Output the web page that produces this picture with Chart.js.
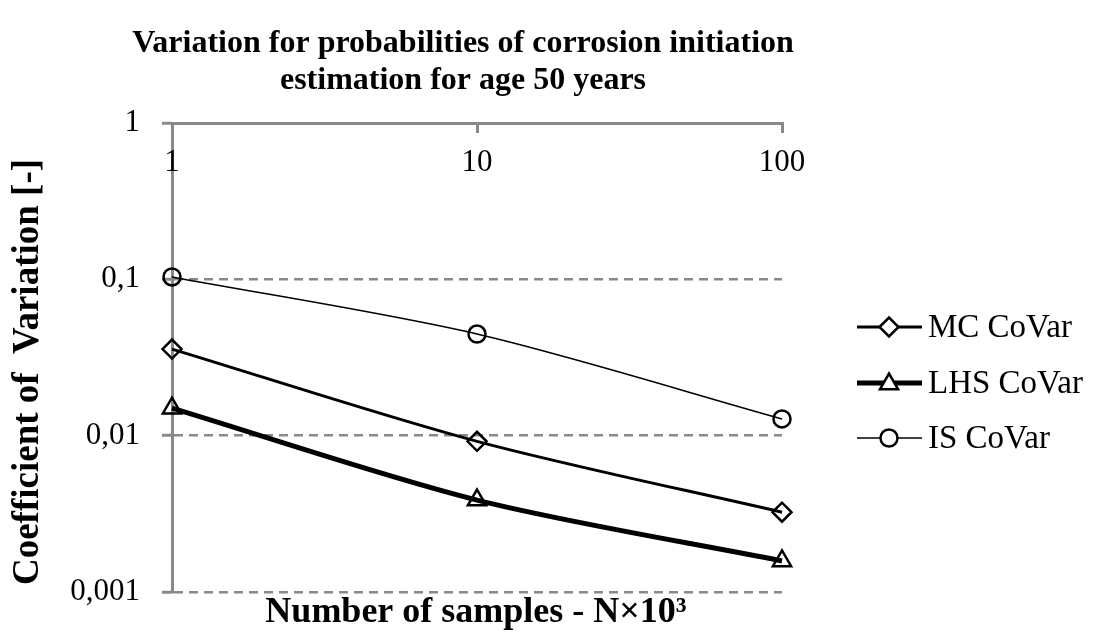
<!DOCTYPE html>
<html>
<head>
<meta charset="utf-8">
<script src="https://cdn.jsdelivr.net/npm/chart.js@4/dist/chart.umd.min.js"></script>
<style>
  html, body { margin: 0; padding: 0; background: #fff; }
  #wrap { width: 1093px; height: 635px; }
</style>
</head>
<body>
<div id="wrap"><canvas id="c" width="1093" height="635"></canvas></div>
<script>
// ---- data ----
const samplesK = [1, 10, 100];
const mcCoVar  = [0.0358, 0.0092, 0.00324];
const lhsCoVar = [0.0150, 0.00387, 0.00158];
const isCoVar  = [0.1035, 0.0447, 0.0128];
const seriesNames = ['MC CoVar', 'LHS CoVar', 'IS CoVar'];
const xTickValues = [1, 10, 100];
const xTickLabels = ['1', '10', '100'];
const yTickValues = [0.001, 0.01, 0.1, 1];
const yTickLabels = ['0,001', '0,01', '0,1', '1'];
const titleLines = ['Variation for probabilities of corrosion initiation', 'estimation for age 50 years'];
const xTitle = 'Number of samples - N×10³';
const yTitle = 'Coefficient of  Variation [-]';

const SERIF = '"Liberation Serif", "DejaVu Serif", serif';
const GRID = '#898989';

function pts(arr) { return samplesK.map((x, i) => ({ x: x, y: arr[i] })); }

function markerPath(ctx, style, x, y, r) {
  ctx.beginPath();
  if (style === 'circle') {
    ctx.arc(x, y, r, 0, Math.PI * 2);
  } else if (style === 'rectRot') {
    ctx.moveTo(x - r, y); ctx.lineTo(x, y - r); ctx.lineTo(x + r, y); ctx.lineTo(x, y + r); ctx.closePath();
  } else {
    const h = r * 1.5, w = r * Math.sqrt(3) / 2;
    ctx.moveTo(x - w, y + h / 3); ctx.lineTo(x, y - 2 * h / 3); ctx.lineTo(x + w, y + h / 3); ctx.closePath();
  }
}

const legendPlugin = {
  id: 'customLegend',
  afterDraw(chart) {
    const ctx = chart.ctx;
    const x0 = 857, x1 = 922, xm = 889, xt = 928;
    const ys = [327, 383, 438];
    chart.data.datasets.forEach((ds, i) => {
      const y = ys[i];
      ctx.save();
      ctx.strokeStyle = ds.borderColor;
      ctx.lineWidth = ds.borderWidth;
      ctx.beginPath(); ctx.moveTo(x0, y); ctx.lineTo(x1, y); ctx.stroke();
      markerPath(ctx, ds.pointStyle, xm, ds.pointStyle === 'triangle' ? y + 1 : y, ds.pointRadius);
      ctx.fillStyle = '#fff';
      ctx.fill();
      ctx.strokeStyle = '#000';
      ctx.lineWidth = ds.pointBorderWidth;
      ctx.stroke();
      ctx.fillStyle = '#000';
      ctx.font = '33px ' + SERIF;
      ctx.textAlign = 'left';
      ctx.textBaseline = 'middle';
      ctx.fillText(ds.label, xt, y + 1);
      ctx.restore();
    });
  }
};

const titlesPlugin = {
  id: 'titles',
  afterDraw(chart) {
    const ctx = chart.ctx;
    ctx.save();
    ctx.fillStyle = '#000';
    ctx.textAlign = 'center';
    ctx.textBaseline = 'middle';
    ctx.font = 'bold 32px ' + SERIF;
    ctx.fillText(titleLines[0], 463, 44);
    ctx.fillText(titleLines[1], 463, 81);
    ctx.font = 'bold 36px ' + SERIF;
    ctx.fillText(xTitle, 476, 613);
    ctx.font = 'bold 37px ' + SERIF;
    ctx.translate(28, 372);
    ctx.rotate(-Math.PI / 2);
    ctx.fillText(yTitle, 0, 0);
    ctx.restore();
  }
};

new Chart(document.getElementById('c'), {
  type: 'line',
  data: {
    datasets: [
      { label: seriesNames[0], data: pts(mcCoVar), borderColor: '#000', borderWidth: 3,
        pointStyle: 'rectRot', pointRadius: 9.5, pointBorderWidth: 2.5,
        pointBackgroundColor: 'rgba(0,0,0,0)', pointBorderColor: '#000', tension: 0.3, clip: false },
      { label: seriesNames[1], data: pts(lhsCoVar), borderColor: '#000', borderWidth: 5,
        pointStyle: 'triangle', pointRadius: 10.5, pointBorderWidth: 2.5,
        pointBackgroundColor: 'rgba(0,0,0,0)', pointBorderColor: '#000', tension: 0.3, clip: false },
      { label: seriesNames[2], data: pts(isCoVar), borderColor: '#000', borderWidth: 1.5,
        pointStyle: 'circle', pointRadius: 8.5, pointBorderWidth: 2.5,
        pointBackgroundColor: 'rgba(0,0,0,0)', pointBorderColor: '#000', tension: 0.3, clip: false }
    ]
  },
  options: {
    responsive: false,
    animation: false,
    events: [],
    layout: { padding: { top: 122, left: 0, right: 311, bottom: 43 } },
    plugins: { legend: { display: false }, title: { display: false }, tooltip: { enabled: false } },
    scales: {
      x: {
        type: 'logarithmic', position: 'top', min: 1, max: 100,
        afterBuildTicks: (s) => { s.ticks = xTickValues.map(v => ({ value: v })); },
        afterFit: (s) => { s.height = 1; },
        ticks: {
          autoSkip: false, maxRotation: 0, mirror: true, padding: 21, color: '#000', z: 1,
          font: { family: SERIF, size: 31 },
          callback: (v) => { const i = xTickValues.indexOf(v); return i >= 0 ? xTickLabels[i] : ''; }
        },
        grid: { drawOnChartArea: false, drawTicks: true, tickLength: -10, tickColor: GRID, tickWidth: 3, color: GRID },
        border: { display: true, color: GRID, width: 3 }
      },
      y: {
        type: 'logarithmic', min: 0.001, max: 1,
        afterBuildTicks: (s) => { s.ticks = yTickValues.map(v => ({ value: v })); },
        afterFit: (s) => { s.width = 172; },
        ticks: {
          autoSkip: false, padding: 22, color: '#000',
          font: { family: SERIF, size: 31 },
          callback: (v) => { const i = yTickValues.indexOf(v); return i >= 0 ? yTickLabels[i] : ''; }
        },
        grid: {
          drawTicks: true, tickLength: 10, tickColor: GRID, tickWidth: 3,
          lineWidth: 2.5,
          color: (c) => (c.tick && c.tick.value === 1) ? 'rgba(0,0,0,0)' : GRID
        },
        border: { display: true, color: GRID, width: 3, dash: [9, 6] }
      }
    }
  },
  plugins: [legendPlugin, titlesPlugin]
});
</script>
</body>
</html>
